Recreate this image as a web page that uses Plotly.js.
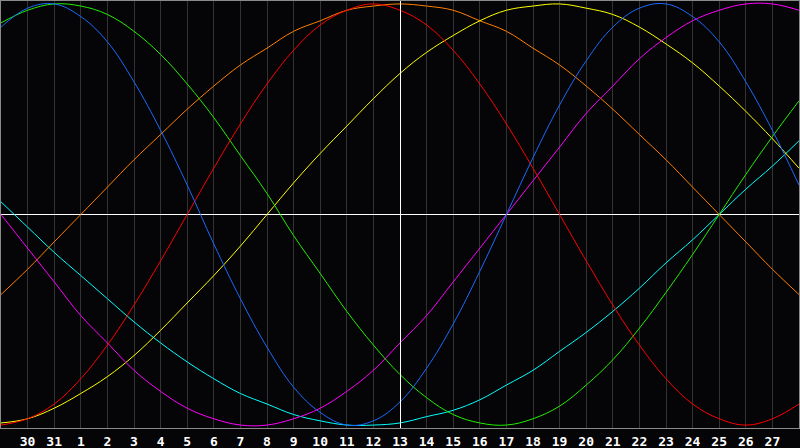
<!DOCTYPE html>
<html>
<head>
<meta charset="utf-8">
<script src="https://cdn.plot.ly/plotly-3.0.1.min.js"></script>
<style>
html,body{margin:0;padding:0;background:#050507;}
#chart{width:800px;height:448px;}
.shapelayer path{shape-rendering:crispEdges;}
</style>
</head>
<body>
<div id="chart"></div>
<script>
// day index across the chart (0 = left edge, 30 = right edge)
var days = [0,1,2,3,4,5,6,7,8,9,10,11,12,13,14,15,16,17,18,19,20,21,22,23,24,25,26,27,28,29,30];
var tickDays = [1,2,3,4,5,6,7,8,9,10,11,12,13,14,15,16,17,18,19,20,21,22,23,24,25,26,27,28,29];
var tickLabels = ["30","31","1","2","3","4","5","6","7","8","9","10","11","12","13","14","15","16","17","18","19","20","21","22","23","24","25","26","27"];

// 23-day cycle (blue)
var physical = [0.89,0.98,1.00,0.94,0.82,0.63,0.40,0.14,-0.14,-0.40,-0.63,-0.82,-0.94,-1.00,-0.98,-0.89,-0.73,-0.52,-0.27,0.00,0.27,0.52,0.73,0.89,0.98,1.00,0.94,0.82,0.63,0.40,0.14];
// 28-day cycle (red)
var emotional = [-1.00,-0.97,-0.90,-0.78,-0.62,-0.43,-0.22,0.00,0.22,0.43,0.62,0.78,0.90,0.97,1.00,0.97,0.90,0.78,0.62,0.43,0.22,0.00,-0.22,-0.43,-0.62,-0.78,-0.90,-0.97,-1.00,-0.97,-0.90];
// 33-day cycle (green)
var intellectual = [0.91,0.97,1.00,0.99,0.95,0.87,0.76,0.62,0.46,0.28,0.10,-0.10,-0.28,-0.46,-0.62,-0.76,-0.87,-0.95,-0.99,-1.00,-0.97,-0.91,-0.81,-0.69,-0.54,-0.37,-0.19,0.00,0.19,0.37,0.54];
// 38-day cycle (magenta)
var intuitive = [0.00,-0.16,-0.32,-0.48,-0.61,-0.74,-0.84,-0.92,-0.97,-1.00,-1.00,-0.97,-0.92,-0.84,-0.74,-0.61,-0.48,-0.32,-0.16,0.00,0.16,0.32,0.48,0.61,0.74,0.84,0.92,0.97,1.00,1.00,0.97];
// 43-day cycle (yellow)
var aesthetic = [-0.99,-0.97,-0.92,-0.85,-0.77,-0.67,-0.55,-0.42,-0.29,-0.15,0.00,0.15,0.29,0.42,0.55,0.67,0.77,0.85,0.92,0.97,0.99,1.00,0.98,0.95,0.89,0.81,0.72,0.61,0.49,0.36,0.22];
// 48-day cycle (orange)
var awareness = [-0.38,-0.26,-0.13,0.00,0.13,0.26,0.38,0.50,0.61,0.71,0.79,0.87,0.92,0.97,0.99,1.00,0.99,0.97,0.92,0.87,0.79,0.71,0.61,0.50,0.38,0.26,0.13,0.00,-0.13,-0.26,-0.38];
// 53-day cycle (cyan)
var spiritual = [0.06,-0.06,-0.18,-0.29,-0.40,-0.51,-0.61,-0.70,-0.78,-0.85,-0.90,-0.95,-0.98,-1.00,-1.00,-0.99,-0.96,-0.93,-0.88,-0.81,-0.74,-0.65,-0.56,-0.46,-0.35,-0.23,-0.12,0.00,0.12,0.23,0.35];

var series = [
  {y: spiritual, c: '#00ffff'},
  {y: awareness, c: '#ff8000'},
  {y: aesthetic, c: '#ffff00'},
  {y: intuitive, c: '#ff00ff'},
  {y: intellectual, c: '#22ee00'},
  {y: emotional, c: '#ff0000'},
  {y: physical, c: '#1a6aff'}
];

var traces = series.map(function(s){
  return {x: days, y: s.y, type: 'scatter', mode: 'lines',
          line: {color: s.c, width: 1, shape: 'spline', smoothing: 1.1},
          hoverinfo: 'skip'};
});

var layout = {
  width: 800, height: 448,
  margin: {l: 1, r: 1, t: 1, b: 20, pad: 0},
  paper_bgcolor: '#050507',
  plot_bgcolor: '#050507',
  showlegend: false,
  xaxis: {
    range: [0, 30], fixedrange: true,
    tickvals: tickDays, ticktext: tickLabels,
    showgrid: true, gridcolor: '#333333', gridwidth: 1,
    zeroline: false, ticks: '',
    showline: true, mirror: true, linecolor: '#8a8a8a', linewidth: 1,
    tickfont: {family: 'DejaVu Sans Mono', size: 13, color: '#ffffff', weight: 'bold'},
    ticklabelstandoff: 1
  },
  yaxis: {
    range: [-1.014, 1.014], fixedrange: true,
    showgrid: false, showticklabels: false, ticks: '',
    zeroline: true, zerolinecolor: '#ffffff', zerolinewidth: 1,
    showline: true, mirror: true, linecolor: '#8a8a8a', linewidth: 1
  },
  shapes: [
    {type: 'line', xref: 'x', yref: 'paper', x0: 15, x1: 15, y0: 0, y1: 1,
     line: {color: '#ffffff', width: 1}, layer: 'above'}
  ]
};

Plotly.newPlot('chart', traces, layout, {staticPlot: true, displayModeBar: false});
</script>
</body>
</html>
